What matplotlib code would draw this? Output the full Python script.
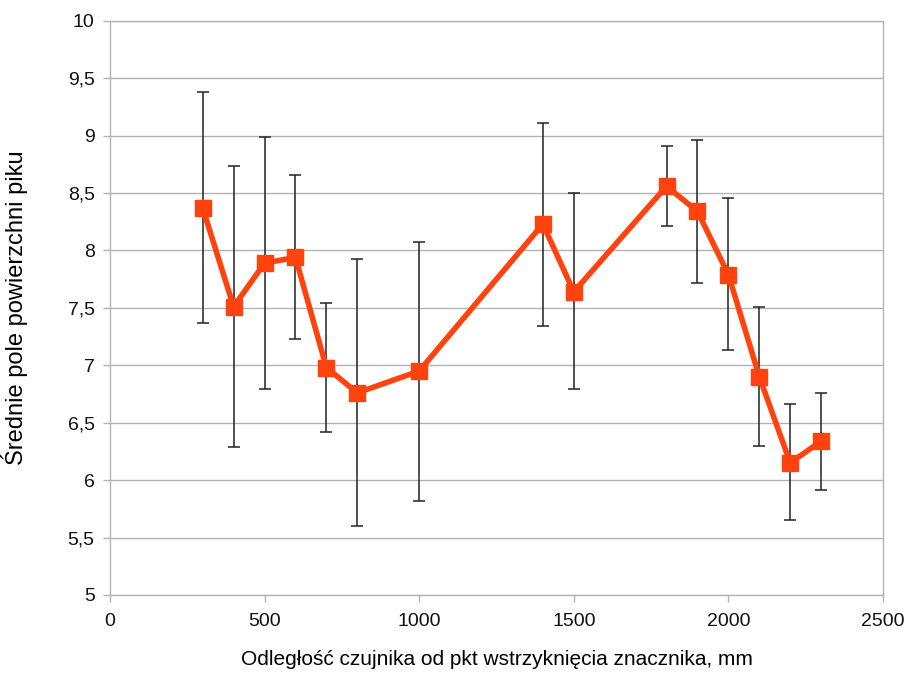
import matplotlib
matplotlib.use("Agg")
import matplotlib.pyplot as plt
from matplotlib.ticker import FuncFormatter

plt.rcParams['font.family'] = ['Liberation Sans', 'DejaVu Sans']

odleglosc = [300, 400, 500, 600, 700, 800, 1000, 1400, 1500, 1800, 1900, 2000, 2100, 2200, 2300]
srednia = [8.37, 7.51, 7.89, 7.94, 6.98, 6.76, 6.95, 8.23, 7.64, 8.56, 8.34, 7.79, 6.90, 6.15, 6.34]
gora = [9.38, 8.74, 8.99, 8.66, 7.54, 7.93, 8.07, 9.11, 8.50, 8.91, 8.96, 8.46, 7.51, 6.66, 6.76]
dol = [7.37, 6.29, 6.79, 7.23, 6.42, 5.60, 5.82, 7.34, 6.79, 8.21, 7.72, 7.13, 6.30, 5.65, 5.91]

err_low = [s - d for s, d in zip(srednia, dol)]
err_high = [g - s for g, s in zip(gora, srednia)]

fig = plt.figure(figsize=(9.16, 6.73), dpi=100)
ax = fig.add_axes([0.120, 0.116, 0.844, 0.853])

ax.errorbar(odleglosc, srednia, yerr=[err_low, err_high], fmt='none',
            ecolor='#222222', elinewidth=1.1, capsize=4.5, capthick=1.1, zorder=2)
ax.plot(odleglosc, srednia, color='#ff420e', linewidth=4, marker='s',
        markersize=12, markeredgecolor='#ff420e', zorder=3)

ax.set_xlim(0, 2500)
ax.set_ylim(5, 10)
ax.set_xticks([0, 500, 1000, 1500, 2000, 2500])
ax.set_yticks([5 + 0.5 * i for i in range(11)])
ax.yaxis.set_major_formatter(FuncFormatter(lambda v, p: ('%g' % v).replace('.', ',')))

ax.yaxis.grid(True, color='#b3b3b3', linewidth=1.0)
ax.set_axisbelow(True)
for s in ax.spines.values():
    s.set_color('#b3b3b3')
    s.set_linewidth(1.0)

ax.tick_params(axis='both', colors='#b3b3b3', labelcolor='#111111', labelsize=14,
               length=5, width=1.0)
ax.tick_params(axis='y', pad=6)
ax.tick_params(axis='x', pad=8)

ax.set_xlabel('Odległość czujnika od pkt wstrzyknięcia znacznika, mm', fontsize=15, va='center')
ax.xaxis.set_label_coords(0.5, -0.113)
ax.set_ylabel('Średnie pole powierzchni piku', fontsize=17, va='center')
ax.yaxis.set_label_coords(-0.123, 0.5)

fig.savefig('out.png', dpi=100)
